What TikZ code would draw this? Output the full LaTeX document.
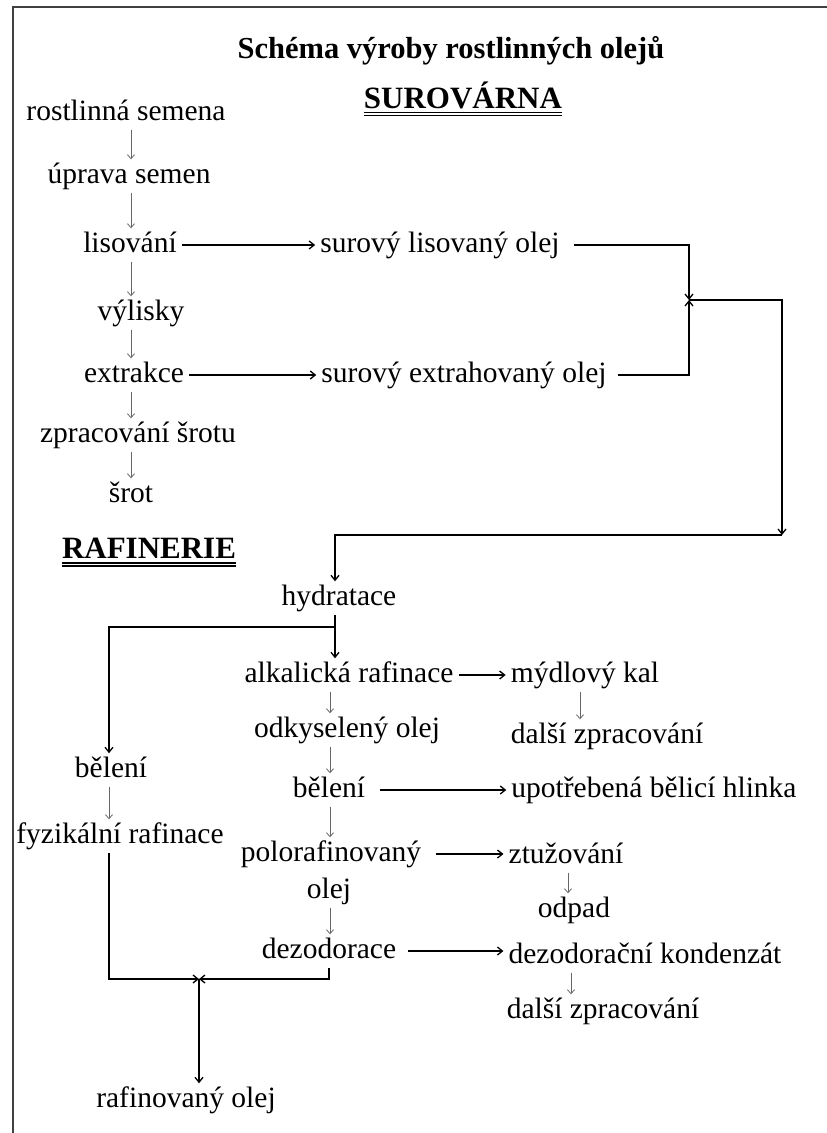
\documentclass[tikz,border=0pt]{standalone}
\usepackage{fontspec}
\setmainfont{Liberation Serif}
\usetikzlibrary{arrows.meta,calc}
\begin{document}
\begin{tikzpicture}[x=1pt,y=-1pt,
  lbl/.style={font=\fontsize{29.5}{34}\selectfont, anchor=base,
    inner xsep=5pt, inner ysep=3pt, text height=20.5pt, text depth=6.5pt},
  head/.style={font=\bfseries\fontsize{31}{36}\selectfont, anchor=base, inner sep=0pt},
  ttl/.style={font=\bfseries\fontsize{30.5}{36}\selectfont, anchor=base, inner sep=0pt},
  sarrow/.style={draw=black!60, line width=0.8pt, -{Straight Barb[length=4pt,width=7pt]}},
  conn/.style={draw=black, line width=1.3pt},
  tip/.style={-{Straight Barb[length=5pt,width=8pt]}},
  uline/.style={line width=1.2pt}
]
\useasboundingbox (0,0) rectangle (827,1133);
% frame
\draw[line width=2pt, black!75] (13,1133) -- (13,7) -- (827,7);

% headings
\node[ttl] (title) at (451,58) {Schéma výroby rostlinných olejů};
\node[head] (sur) at (463,108) {SUROVÁRNA};
\draw[uline] ([yshift=-4.5pt]sur.base west) -- ([yshift=-4.5pt]sur.base east);
\draw[uline] ([yshift=-7.5pt]sur.base west) -- ([yshift=-7.5pt]sur.base east);
\node[head] (raf-h) at (149,558) {RAFINERIE};
\draw[uline] ([yshift=-5pt]raf-h.base west) -- ([yshift=-5pt]raf-h.base east);
\draw[uline] ([yshift=-8pt]raf-h.base west) -- ([yshift=-8pt]raf-h.base east);

% column coordinates and junctions
\coordinate (cA) at (131,0);
\coordinate (cB) at (330,0);
\coordinate (cH) at (335,0);
\coordinate (cL) at (109,0);
\coordinate (c1) at (580,0);
\coordinate (c2) at (568,0);
\coordinate (c3) at (571,0);
\coordinate (j1) at (689,300);
\coordinate (k1) at (782,535);
\coordinate (j2) at (335,627);
\coordinate (j3) at (199,979);

% pressing and extraction
\node[lbl] (rs)   at (126,120) {rostlinná semena};
\node[lbl] (us)   at (129,183) {úprava semen};
\node[lbl] (lis)  at (130,252) {lisování};
\node[lbl] (vyl)  at (141,320) {výlisky};
\node[lbl] (ext)  at (134,382) {extrakce};
\node[lbl] (zpr)  at (138,442) {zpracování šrotu};
\node[lbl] (srot) at (131,502) {šrot};
\node[lbl] (slo)  at (440,252) {surový lisovaný olej};
\node[lbl] (seo)  at (464,382) {surový extrahovaný olej};

% refining
\node[lbl] (hyd)  at (339,605) {hydratace};
\node[lbl] (alk)  at (349,682) {alkalická rafinace};
\node[lbl] (myd)  at (585,682) {mýdlový kal};
\node[lbl] (dal1) at (607,743) {další zpracování};
\node[lbl] (odk)  at (347,737) {odkyselený olej};
\node[lbl] (bel1) at (111,777) {bělení};
\node[lbl] (bel2) at (329,797) {bělení};
\node[lbl] (upo)  at (654,797) {upotřebená bělicí hlinka};
\node[lbl] (fyz)  at (120,843) {fyzikální rafinace};
\node[lbl] (pol)  at (331,861) {polorafinovaný};
\node[lbl] (polb) at (329,898) {olej};
\node[lbl] (ztu)  at (566,863) {ztužování};
\node[lbl] (odp)  at (574,917) {odpad};
\node[lbl] (dez)  at (329,958) {dezodorace};
\node[lbl] (kon)  at (645,963) {dezodorační kondenzát};
\node[lbl] (dal2) at (603,1018) {další zpracování};
\node[lbl] (raf)  at (186,1107) {rafinovaný olej};

% short downward arrows
\draw[sarrow] (rs.south -| cA)  -- (us.north -| cA);
\draw[sarrow] (us.south -| cA)  -- (lis.north -| cA);
\draw[sarrow] (lis.south -| cA) -- (vyl.north -| cA);
\draw[sarrow] (vyl.south -| cA) -- (ext.north -| cA);
\draw[sarrow] (ext.south -| cA) -- (zpr.north -| cA);
\draw[sarrow] (zpr.south -| cA) -- (srot.north -| cA);
\draw[sarrow] (alk.south -| cB)  -- (odk.north -| cB);
\draw[sarrow] (odk.south -| cB)  -- (bel2.north -| cB);
\draw[sarrow] (bel2.south -| cB) -- (pol.north -| cB);
\draw[sarrow] (polb.south -| cB) -- (dez.north -| cB);
\draw[sarrow] (myd.south -| c1) -- (dal1.north -| c1);
\draw[sarrow] (ztu.south -| c2) -- (odp.north -| c2);
\draw[sarrow] (kon.south -| c3) -- (dal2.north -| c3);
\draw[sarrow] (bel1.south -| cL) -- (fyz.north -| cL);

% side streams
\draw[conn,tip] (lis.east) -- (lis.east -| slo.west);
\draw[conn,tip] (ext.east) -- (ext.east -| seo.west);
\draw[conn,tip] (alk.east) -- (alk.east -| myd.west);
\draw[conn,tip,shorten <=10pt] (bel2.east) -- (bel2.east -| upo.west);
\draw[conn,tip,shorten <=10pt] (pol.east) -- (pol.east -| ztu.west);
\draw[conn,tip,shorten <=7pt] (dez.east) -- (dez.east -| kon.west);

% crude oils to the refinery
\draw[conn,tip,shorten <=9pt] (slo.east) -| (j1);
\draw[conn,tip,shorten <=6pt] (seo.east) -| (j1);
\draw[conn,tip] (j1) -| (k1);
\draw[conn,tip] (k1) -- (k1 -| cH) -- (hyd.north -| cH);

% hydration splits into chemical and physical refining
\draw[conn] (hyd.south -| cH) -- (j2);
\draw[conn,tip] (j2) -- (alk.north -| cH);
\draw[conn,tip] (j2) -- (j2 -| cL) -- (bel1.north -| cL);

% both routes join into refined oil
\draw[conn,tip] (fyz.south -| cL) -- (cL |- j3) -- (j3);
\draw[conn,tip] (dez.south) -- (dez.south |- j3) -- (j3);
\draw[conn,tip] (j3) -- (raf.north -| j3);
\end{tikzpicture}
\end{document}
